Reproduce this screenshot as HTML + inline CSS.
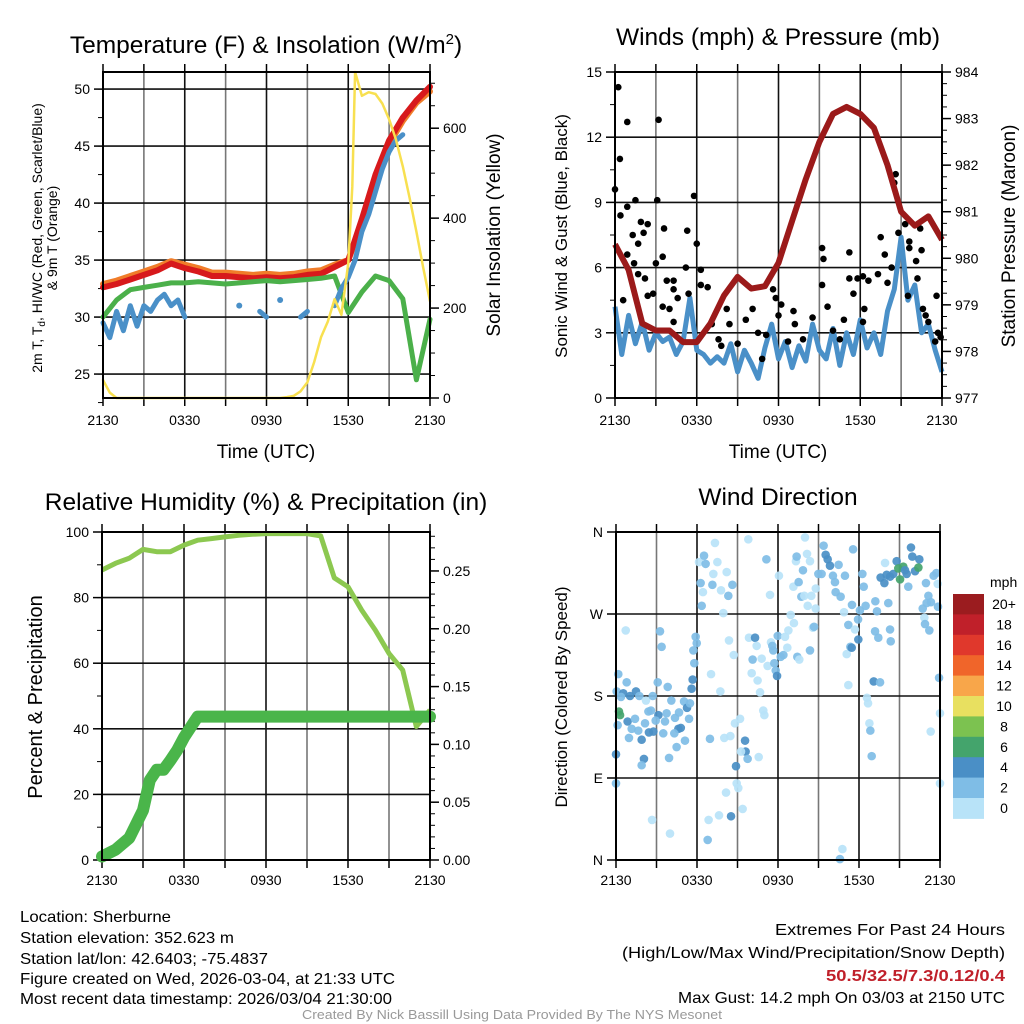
<!DOCTYPE html>
<html><head><meta charset="utf-8"><style>
html,body{margin:0;padding:0;background:#fff;}
svg{display:block;font-family:"Liberation Sans",sans-serif;}
.n{font-family:"Liberation Sans Narrow","Liberation Sans",sans-serif;}
</style></head><body>
<svg id="chart" width="1024" height="1024" viewBox="0 0 1024 1024" xmlns="http://www.w3.org/2000/svg">
<g id="g-plots"></g>
<text x="266" y="53" text-anchor="middle" font-size="24.5">Temperature (F) &amp; Insolation (W/m<tspan font-size="15" dy="-9">2</tspan><tspan dy="9">)</tspan></text>
<text x="778" y="45" text-anchor="middle" font-size="24.5">Winds (mph) &amp; Pressure (mb)</text>
<text x="266" y="510" text-anchor="middle" font-size="24.5">Relative Humidity (%) &amp; Precipitation (in)</text>
<text x="778" y="505" text-anchor="middle" font-size="24.5">Wind Direction</text>
<text x="266" y="458" text-anchor="middle" font-size="19">Time (UTC)</text>
<text x="778" y="458" text-anchor="middle" font-size="19">Time (UTC)</text>
<g font-size="14">
<text transform="translate(42,238) rotate(-90)" text-anchor="middle">2m T, T<tspan font-size="10" dy="3">d</tspan><tspan dy="-3">, HI/WC (Red, Green, Scarlet/Blue)</tspan></text>
<text transform="translate(57,238) rotate(-90)" text-anchor="middle">&amp; 9m T (Orange)</text>
</g>
<text transform="translate(500,235) rotate(-90)" text-anchor="middle" font-size="19">Solar Insolation (Yellow)</text>
<text transform="translate(567,236) rotate(-90)" text-anchor="middle" font-size="17">Sonic Wind &amp; Gust (Blue, Black)</text>
<text transform="translate(1015,236) rotate(-90)" text-anchor="middle" font-size="19">Station Pressure (Maroon)</text>
<text transform="translate(42,697) rotate(-90)" text-anchor="middle" font-size="20">Percent &amp; Precipitation</text>
<text transform="translate(567,697) rotate(-90)" text-anchor="middle" font-size="17">Direction (Colored By Speed)</text>
<g class="n" font-size="16">
<text x="20" y="922" textLength="151" lengthAdjust="spacingAndGlyphs">Location: Sherburne</text>
<text x="20" y="943" textLength="214" lengthAdjust="spacingAndGlyphs">Station elevation: 352.623 m</text>
<text x="20" y="964" textLength="248" lengthAdjust="spacingAndGlyphs">Station lat/lon: 42.6403; -75.4837</text>
<text x="20" y="984" textLength="375" lengthAdjust="spacingAndGlyphs">Figure created on Wed, 2026-03-04, at 21:33 UTC</text>
<text x="20" y="1004" textLength="372" lengthAdjust="spacingAndGlyphs">Most recent data timestamp: 2026/03/04 21:30:00</text>
</g>
<g class="n" font-size="16">
<text x="775" y="935" textLength="230" lengthAdjust="spacingAndGlyphs">Extremes For Past 24 Hours</text>
<text x="622" y="958" textLength="383" lengthAdjust="spacingAndGlyphs">(High/Low/Max Wind/Precipitation/Snow Depth)</text>
<text x="826" y="981" textLength="179" lengthAdjust="spacingAndGlyphs" fill="#c0202a" font-weight="bold">50.5/32.5/7.3/0.12/0.4</text>
<text x="678" y="1003" textLength="327" lengthAdjust="spacingAndGlyphs">Max Gust: 14.2 mph On 03/03 at 2150 UTC</text>
</g>
<text class="n" x="302" y="1019" textLength="420" lengthAdjust="spacingAndGlyphs" font-size="13" fill="#999">Created By Nick Bassill Using Data Provided By The NYS Mesonet</text>
</svg>
<script>
// ---------- data (hours since 2130 UTC) ----------
const timeTickLabels = ["2130","0330","0930","1530","2130"];
const hourly = [0,1,2,3,4,5,6,7,8,9,10,11,12,13,14,15,16,17,18,19,20,21,22,23,24];
const tempRed = [32.6,32.9,33.3,33.7,34.1,34.7,34.3,34.0,33.6,33.6,33.5,33.4,33.5,33.4,33.5,33.7,33.8,34.4,35.0,38.6,42.5,45.5,47.5,49.0,50.2];
const tempOrange = [32.9,33.2,33.6,34.0,34.4,34.9,34.6,34.3,33.9,33.9,33.8,33.7,33.8,33.7,33.8,34.0,34.1,34.6,35.0,38.2,42.0,45.2,47.2,48.8,49.8];
const dewGreen = [30.0,31.5,32.4,32.6,32.8,33.0,33.0,33.1,33.0,32.9,33.0,33.1,33.2,33.1,33.2,33.3,33.4,33.6,30.4,32.2,33.6,33.2,31.6,24.5,29.8];
const halfHours = [0,0.5,1,1.5,2,2.5,3,3.5,4,4.5,5,5.5,6,6.5,7,7.5,8,8.5,9,9.5,10,10.5,11,11.5,12,12.5,13,13.5,14,14.5,15,15.5,16,16.5,17,17.5,18,18.5,19,19.5,20,20.5,21,21.5,22,22.5,23,23.5,24];
const windChillBlue = [29.5,28.2,30.5,28.8,31.0,29.2,31.0,30.5,31.5,32.0,31.0,31.5,30.0,null,null,null,null,null,null,null,31.0,null,null,30.5,30.0,null,31.5,null,null,30.0,30.5,null,null,null,31.0,32.5,33.5,35.0,37.5,39.0,41.0,43.0,44.5,45.5,46.0,null,null,null,null];
const solarHours = [0,0.5,1,12,13,13.5,14,14.5,15,15.5,16,16.5,17,17.5,18,18.3,18.5,19,19.5,20,20.5,21,21.5,22,22.5,23,23.5,24];
const solarVals = [40,12,0,0,0,2,5,15,35,80,135,170,220,185,300,470,725,672,680,676,655,620,575,515,445,370,290,215];
const windBlue = [4.2,2.0,3.8,2.5,3.5,2.2,3.0,2.6,2.8,2.0,2.6,4.6,2.2,2.0,1.6,1.9,1.6,2.5,1.2,2.2,1.6,0.9,2.3,3.4,1.8,2.6,1.4,2.4,1.7,3.4,2.2,1.8,3.2,1.5,3.0,2.0,3.6,2.3,3.0,2.0,4.0,5.0,7.4,4.5,5.2,3.0,3.4,2.2,1.2];
const gustHours = [0.24,0,0.9,0.36,3.2,0.4,0.9,1.5,1.3,1.7,1.9,2.4,2.1,0.9,1.4,3.1,3.6,3.5,3.0,5.8,5.3,6.0,5.2,6.3,1.7,2.2,3.8,4.3,6.3,6.8,2.4,2.8,4.3,4.6,5.4,3.5,4.0,0.6,4.3,7.1,8.2,7.6,7.8,8.4,9.0,9.6,10.1,10.5,10.8,11.1,11.6,11.8,12.2,12.0,12.7,13.1,13.2,13.8,14.5,15.2,15.3,15.2,15.6,16.0,16.5,16.8,17.2,17.2,17.5,17.8,18.2,18.6,18.3,18.2,19.3,19.5,19.8,20.0,20.3,20.6,20.5,20.8,21.3,21.6,21.6,22.1,22.4,22.5,22.2,21.5,22.6,23.6,23.7,23.5,23.9,23.0,22.8];
const gustVals = [14.3,9.6,12.7,11.0,12.8,8.4,8.8,9.1,7.5,7.1,8.1,8.0,7.6,6.6,6.2,9.1,7.8,6.5,6.2,9.3,7.7,7.1,6.0,5.9,5.7,5.5,5.4,5.4,5.2,5.1,4.7,4.8,5.0,4.6,4.8,4.2,4.1,4.5,3.5,3.4,4.1,2.7,2.4,3.4,2.5,3.6,4.1,3.0,1.8,2.9,5.0,4.6,4.3,3.8,2.6,4.0,3.4,2.7,3.7,6.9,6.4,5.2,4.2,3.1,2.7,3.6,6.7,5.5,4.8,5.5,5.6,5.4,4.1,3.5,5.7,7.4,6.6,5.3,6.0,10.3,9.9,7.6,8.0,7.2,6.9,6.3,7.8,6.8,5.5,4.7,4.1,4.7,3.0,2.6,2.8,3.5,3.8];
const pressure = [980.3,979.75,978.6,978.45,978.45,978.2,978.2,978.6,979.2,979.6,979.35,979.4,979.9,980.8,981.7,982.5,983.1,983.25,983.1,982.8,982.0,981.0,980.7,980.9,980.4];
const rhVals = [88.4,90.5,92.0,94.7,94.0,94.0,96.0,97.5,98.0,98.5,99.0,99.3,99.5,99.5,99.5,99.5,98.8,86.0,83.3,76.2,70.1,63.0,57.9,40.7,45.7];
const precipHours = [0,1,2,3,3.5,4,4.5,5,5.5,6,6.5,7,24];
const precipVals = [0.003,0.009,0.019,0.043,0.069,0.078,0.078,0.086,0.095,0.106,0.115,0.124,0.124];
const dirHours = [0.17,0.79,0.05,0.54,1.04,1.48,1.73,0.37,0.22,0.3,0.86,0.12,1.41,1.16,1.65,1.9,0.96,2.22,2.72,2.4,2.59,2.15,2.44,2.77,3.14,2.94,3.5,3.75,3.63,4.1,4.37,4.67,4.62,4.32,5.04,5.26,5.48,5.41,5.11,4.49,4.8,0,2.07,1.9,3.93,0,3.09,3.83,5.68,5.6,5.8,5.73,5.9,5.98,3.26,3.38,0.72,
6.15,6.52,6.64,7.33,7.51,7.21,8.2,6.27,7.14,7.78,8.62,8.32,6.44,6.35,7.95,9.8,8.37,8.72,7.04,7.73,6.96,8.02,8.47,9.56,9.19,8.81,9.6,9.75,9.26,10.57,8.89,8.94,9.06,8.15,9.38,7.63,6.86,8.52,6.79,4.0,2.67,9.85,10.3,10.42,10.12,10.79,10.05,10.49,10.67,10.91,10.99,11.23,11.48,11.58,11.65,11.73,11.83,11.93,11.98,12.2,12.4,12.52,12.69,12.77,12.94,13.18,13.43,13.58,14.37,14.59,14.67,11.14,11.41,12.07,13.14,13.33,13.38,13.53,13.73,13.95,14.15,14.0,13.85,14.37,14.2,14.47,14.8,14.79,14.99,15.23,15.38,15.53,15.68,15.85,16.07,16.22,16.49,16.27,16.64,16.96,16.89,17.48,17.56,17.93,18.07,18.25,18.35,18.49,17.21,17.7,17.09,17.21,17.36,17.46,17.95,19.21,19.33,19.19,19.43,20.3,20.35,20.17,19.09,19.56,18.59,18.67,18.77,18.84,18.94,16.59,16.77,
19.93,19.6,19.88,20.05,20.3,20.54,20.79,20.91,21.04,21.28,21.53,21.41,21.85,21.95,22.15,22.47,22.4,21.65,22.96,23.14,23.01,23.33,22.72,23.53,23.73,23.83,23.85,22.84,22.89,23.21,23.93,24,23.31,24];
const dirDegrees = [204,195,185,183,180,185,180,179,163,159,152,148,155,144,142,132,134,175,180,163,164,150,140,141,159,153,139,161,152,175,156,162,144,139,174,167,172,155,131,124,145,116,111,104,112,84,195,190,198,188,216,230,245,238,251,234,252,
327,334,325,348,327,314,316,304,302,296,302,290,294,279,271,352,241,225,204,185,133,134,136,131,155,150,119,111,119,113,103,84,79,74,56,49,44,48,22,29,44,244,244,235,220,221,205,197,184,164,159,213,239,235,230,216,208,202,246,223,225,245,233,252,269,260,223,220,230,255,256,330,291,312,300,328,333,305,289,290,336,354,318,328,279,290,298,276,314,314,345,335,330,323,312,305,324,294,289,312,272,280,341,264,274,314,300,279,258,253,226,192,234,233,242,284,273,251,244,253,240,282,196,195,178,172,150,142,114,1,12,
326,310,304,313,311,314,328,320,308,322,314,318,343,333,317,330,321,300,304,290,282,283,276,312,315,303,278,266,259,252,200,161,141,84];
const dirSpeedClass = [1,1,1,2,2,2,1,1,3,3,2,1,1,1,1,2,1,0,1,1,1,1,2,2,2,1,1,1,1,1,1,1,2,1,1,2,1,1,1,1,2,2,2,1,1,1,1,1,2,2,1,1,1,1,1,1,0,
0,1,1,0,0,0,0,1,1,0,1,1,0,1,0,0,0,0,0,0,1,0,0,2,0,0,2,1,0,0,2,0,0,0,0,0,0,2,1,0,0,0,2,0,1,0,0,0,0,0,0,0,0,1,1,1,1,2,1,1,1,0,0,0,0,0,1,0,1,0,1,1,0,0,0,0,1,1,1,0,0,0,1,0,0,0,0,0,1,1,1,2,2,2,1,1,1,1,1,1,0,1,1,1,1,1,1,1,1,0,0,0,1,2,2,1,1,1,1,1,1,1,2,1,0,0,0,1,1,1,0,0,
2,2,2,2,2,2,3,3,3,2,2,2,2,2,2,3,1,1,1,1,1,1,1,1,0,1,0,1,1,1,0,0,0,1];
const speedLabels = ["0","2","4","6","8","10","12","14","16","18","20+"];
const speedColors = ["#b8e3f8","#7fbde6","#4a8fc6","#44a46c","#7cc250","#e8e060","#f8a64a","#f0652a","#e0382c","#c0202a","#9b1c1f"];

// ---------- helpers ----------
const NS = "http://www.w3.org/2000/svg";
const root = document.getElementById("g-plots");
function el(tag, attrs, parent) {
  const e = document.createElementNS(NS, tag);
  for (const k in attrs) e.setAttribute(k, attrs[k]);
  (parent || root).appendChild(e);
  return e;
}
function lin(d0, d1, r0, r1) { return v => r0 + (v - d0) * (r1 - r0) / (d1 - d0); }
function pathFrom(xs, ys, fx, fy) {
  let d = "", pen = false;
  for (let i = 0; i < xs.length; i++) {
    if (ys[i] === null) { pen = false; continue; }
    d += (pen ? "L" : "M") + fx(xs[i]).toFixed(1) + " " + fy(ys[i]).toFixed(1);
    pen = true;
  }
  return d;
}
function isolatedDots(xs, ys, fx, fy, color, r, g) {
  for (let i = 0; i < xs.length; i++) {
    if (ys[i] === null) continue;
    const p = i > 0 ? ys[i-1] : null, n = i < ys.length-1 ? ys[i+1] : null;
    if (p === null && n === null) {
      const c = el("circle", {cx: fx(xs[i]), cy: fy(ys[i]), r: r, fill: color}, g);
      
      
    }
  }
}
function frame(P, name) {
  const g = el("g", {});
  
  
  return g;
}
function timeAxis(P, g, labelY) {
  const fx = lin(0, 24, P.x0, P.x1);
  for (let h = 3; h < 24; h += 3) {
    el("line", {x1: fx(h), x2: fx(h), y1: P.y0, y2: P.y1, stroke: h % 6 === 0 ? "#111" : "#777", "stroke-width": 1.6}, g);
  }
  for (let h = 0; h <= 24; h += 3) {
    el("line", {x1: fx(h), x2: fx(h), y1: P.y1, y2: P.y1 + 8, stroke: "#000", "stroke-width": 1.5}, g);
    el("line", {x1: fx(h), x2: fx(h), y1: P.y0, y2: P.y0 - 8, stroke: "#000", "stroke-width": 1.5}, g);
  }
  timeTickLabels.forEach((t, i) => {
    const tx = el("text", {x: fx(i * 6), y: labelY, "text-anchor": "middle", "font-size": 14, class: "n"}, g);
    tx.textContent = t;
    
    
  });
  return fx;
}
function yAxis(P, g, side, d0, d1, majors, minors, fmt, labels) {
  const fy = lin(d0, d1, P.y1, P.y0);
  const x = side === "L" ? P.x0 : P.x1, s = side === "L" ? -1 : 1;
  minors.forEach(v => el("line", {x1: x, x2: x + s * 5, y1: fy(v), y2: fy(v), stroke: "#000", "stroke-width": 1}, g));
  majors.forEach((v, i) => {
    el("line", {x1: x, x2: x + s * 9, y1: fy(v), y2: fy(v), stroke: "#000", "stroke-width": 1.5}, g);
    const tx = el("text", {x: x + s * 13, y: fy(v) + 5, "text-anchor": side === "L" ? "end" : "start", "font-size": 14, class: "n"}, g);
    tx.textContent = labels ? labels[i] : fmt(v);
    
    
  });
  return fy;
}
function hgrid(P, g, fy, vals) {
  vals.forEach(v => el("line", {x1: P.x0, x2: P.x1, y1: fy(v), y2: fy(v), stroke: "#111", "stroke-width": 1.6}, g));
}
function border(P, g) {
  el("rect", {x: P.x0, y: P.y0, width: P.x1 - P.x0, height: P.y1 - P.y0, fill: "none", stroke: "#000", "stroke-width": 2}, g);
}
function range(a, b, s) { const r = []; for (let v = a; v <= b + 1e-9; v += s) r.push(+v.toFixed(4)); return r; }

// ---------- Panel 1: Temperature ----------
{
  const P = {x0: 103, x1: 430, y0: 72, y1: 398};
  const g = frame(P, "temperature-panel");
  const fx = timeAxis(P, g, 425);
  const fy = yAxis(P, g, "L", 22.9, 51.5, [25,30,35,40,45,50], range(22.5, 50, 2.5), v => String(v));
  const fs = yAxis(P, g, "R", 0, 725, [0,200,400,600], range(0, 700, 50), v => String(v));
  hgrid(P, g, fy, [25,30,35,40,45,50]);
  const mk = (d, c, w, name) => { const p = el("path", {d: d, fill: "none", stroke: c, "stroke-width": w, "stroke-linejoin": "round", "stroke-linecap": "round"}, g);   };
  mk(pathFrom(hourly, tempOrange, fx, fy), "#f07d2a", 6, "9m-temp-line");
  mk(pathFrom(hourly, tempRed, fx, fy), "#d7191c", 6, "2m-temp-line");
  mk(pathFrom(hourly, dewGreen, fx, fy), "#4bb04a", 5, "dewpoint-line");
  mk(pathFrom(halfHours, windChillBlue, fx, fy), "#4a90c8", 5, "wind-chill-line");
  isolatedDots(halfHours, windChillBlue, fx, fy, "#4a90c8", 3, g);
  mk(pathFrom(solarHours, solarVals, fx, fs), "#f8e050", 2.5, "solar-line");
  border(P, g);
}
// ---------- Panel 2: Winds ----------
{
  const P = {x0: 615, x1: 942, y0: 72, y1: 398};
  const g = frame(P, "winds-panel");
  const fx = timeAxis(P, g, 425);
  const fy = yAxis(P, g, "L", 0, 15, [0,3,6,9,12,15], range(0, 15, 1.5), v => String(v));
  const fp = yAxis(P, g, "R", 977, 984, [977,978,979,980,981,982,983,984], range(977, 984, 0.25), v => String(v));
  hgrid(P, g, fy, [3,6,9,12]);
  const w = el("path", {d: pathFrom(halfHours, windBlue, fx, fy), fill: "none", stroke: "#4a90c8", "stroke-width": 5, "stroke-linejoin": "round"}, g);
  
  
  gustHours.forEach((h, i) => {
    const c = el("circle", {cx: fx(h), cy: fy(gustVals[i]), r: 3.3, fill: "#000"}, g);
    
    
  });
  const p = el("path", {d: pathFrom(hourly, pressure, fx, fp), fill: "none", stroke: "#9b1a1a", "stroke-width": 6, "stroke-linejoin": "round"}, g);
  
  
  border(P, g);
}
// ---------- Panel 3: RH & Precip ----------
{
  const P = {x0: 102, x1: 430, y0: 532, y1: 860};
  const g = frame(P, "humidity-panel");
  const fx = timeAxis(P, g, 885);
  const fy = yAxis(P, g, "L", 0, 100, [0,20,40,60,80,100], range(0, 100, 10), v => String(v));
  const fr = yAxis(P, g, "R", 0, 0.2837, [0,0.05,0.1,0.15,0.2,0.25], range(0, 0.28, 0.01), v => v.toFixed(2));
  hgrid(P, g, fy, [20,40,60,80]);
  const r = el("path", {d: pathFrom(hourly, rhVals, fx, fy), fill: "none", stroke: "#8cc850", "stroke-width": 5, "stroke-linejoin": "round"}, g);
  
  
  const pr = el("path", {d: pathFrom(precipHours, precipVals, fx, fr), fill: "none", stroke: "#4ab54a", "stroke-width": 12, "stroke-linejoin": "round", "stroke-linecap": "round"}, g);
  
  
  border(P, g);
}
// ---------- Panel 4: Wind direction ----------
{
  const P = {x0: 616, x1: 940, y0: 532, y1: 860};
  const g = frame(P, "wind-direction-panel");
  const fx = timeAxis(P, g, 885);
  const fy = yAxis(P, g, "L", 0, 360, [0,90,180,270,360], [], null, ["N","E","S","W","N"]);
  hgrid(P, g, fy, [90,180,270]);
  dirHours.forEach((h, i) => {
    const c = el("circle", {cx: fx(h), cy: fy(dirDegrees[i]), r: 4.3, fill: speedColors[dirSpeedClass[i]], "fill-opacity": 0.92}, g);
    
    
  });
  border(P, g);
  // colorbar
  const cb = el("g", {});
  
  
  const top = 594, bh = 20.4;
  const t = el("text", {x: 990, y: 587, "font-size": 14, class: "n"}, cb);
  t.textContent = "mph";
  
  
  for (let i = 0; i < speedColors.length; i++) {
    const k = speedColors.length - 1 - i;
    const b = el("rect", {x: 953, y: top + i * bh, width: 31, height: bh + 0.5, fill: speedColors[k]}, cb);
    
    
    const lt = el("text", {x: 1004, y: top + i * bh + 15, "font-size": 14, "text-anchor": "middle", class: "n"}, cb);
    lt.textContent = speedLabels[k];
    
    
  }
}
</script>
</body></html>
